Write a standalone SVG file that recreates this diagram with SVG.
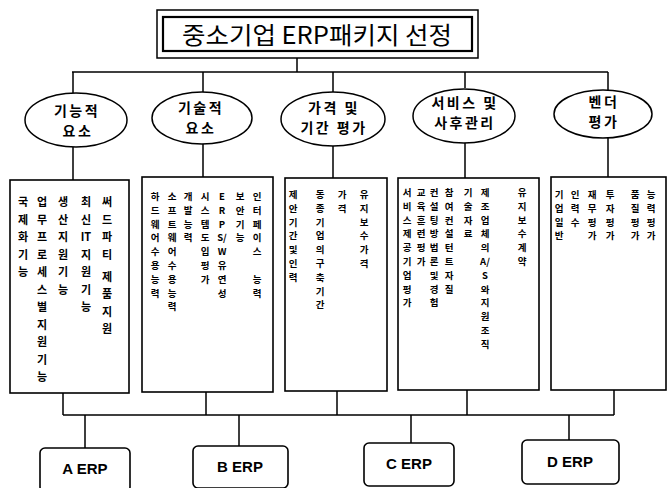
<svg xmlns="http://www.w3.org/2000/svg" width="669" height="488" viewBox="0 0 669 488">
<style>
.ln{stroke:#000;stroke-width:1.5;fill:none}
.bx{stroke:#000;stroke-width:1.6;fill:#fff}
.el{stroke:#000;stroke-width:1.5;fill:#fff}
.t{font-family:"Noto Sans CJK KR","Noto Sans",sans-serif;fill:#000}
.title{font-size:24px;font-weight:400}
.et{font-size:14px;font-weight:700;letter-spacing:2.5px;text-anchor:middle}
.v text{font-family:"Noto Sans CJK KR","Noto Sans",sans-serif;font-size:9.5px;font-weight:700;text-anchor:middle;fill:#000}
#box1 text{font-size:11px}
.erp{font-family:"Liberation Sans",Arial,sans-serif;font-size:15px;font-weight:700;text-anchor:middle;fill:#000}
</style>
<rect width="669" height="488" fill="#fff"/>
<g id="connectors">
<path class="ln" d="M297 57V72M72 72H608M73 72V93M203 72V92M333 72V92M465 72V88M608 72V90"/>
<path class="ln" d="M73 147V180M203 143V177M333 145V178M465 143V178M608 137V177"/>
<path class="ln" d="M63 393V415M206 392V415M337 391V415M467 390V415M614 390V415M63 415H614"/>
<path class="ln" d="M85 415V448M239 415V446M411 415V443M569 415V440"/>
</g>
<g id="title">
<rect x="157" y="10" width="321" height="48" fill="#fff" stroke="#000" stroke-width="1.5"/>
<rect x="163" y="17" width="309" height="34" fill="none" stroke="#000" stroke-width="2.2"/>
<text class="t title" x="182" y="44" textLength="270" lengthAdjust="spacingAndGlyphs">중소기업  ERP패키지 선정</text>
</g>
<g id="e1"><ellipse class="el" cx="76" cy="120" rx="51" ry="27"/><text class="t et" x="77" y="116">기능적</text><text class="t et" x="78" y="136">요소</text></g>
<g id="e2"><ellipse class="el" cx="202" cy="118" rx="50" ry="26"/><text class="t et" x="201" y="113">기술적</text><text class="t et" x="201" y="133">요소</text></g>
<g id="e3"><ellipse class="el" cx="333" cy="119" rx="52" ry="27"/><text class="t et" x="334" y="113">가격 및</text><text class="t et" x="334" y="133">기간 평가</text></g>
<g id="e4"><ellipse class="el" cx="464" cy="116" rx="51" ry="27"/><text class="t et" x="465" y="108">서비스 및</text><text class="t et" x="465" y="128">사후관리</text></g>
<g id="e5"><ellipse class="el" cx="603" cy="114" rx="49" ry="24"/><text class="t et" x="604" y="107">벤더</text><text class="t et" x="604" y="127">평가</text></g>

<g id="box1" class="v"><rect class="bx" x="10" y="180" width="119" height="213"/>
<text x="23" y="206">국</text><text x="23" y="223.5">제</text><text x="23" y="241">화</text><text x="23" y="258.5">기</text><text x="23" y="276">능</text>
<text x="42" y="206">업</text><text x="42" y="223.5">무</text><text x="42" y="241">프</text><text x="42" y="258.5">로</text><text x="42" y="276">세</text><text x="42" y="293.5">스</text><text x="42" y="311">별</text><text x="42" y="328.5">지</text><text x="42" y="346">원</text><text x="42" y="363.5">기</text><text x="42" y="381">능</text>
<text x="63" y="206">생</text><text x="63" y="223.5">산</text><text x="63" y="241">지</text><text x="63" y="258.5">원</text><text x="63" y="276">기</text><text x="63" y="293.5">능</text>
<text x="86" y="206">최</text><text x="86" y="223.5">신</text><text x="86" y="241">IT</text><text x="86" y="258.5">지</text><text x="86" y="276">원</text><text x="86" y="293.5">기</text><text x="86" y="311">능</text>
<text x="107" y="206">써</text><text x="107" y="223.5">드</text><text x="107" y="241">파</text><text x="107" y="258.5">티</text><text x="107" y="280.5">제</text><text x="107" y="298">품</text><text x="107" y="315.5">지</text><text x="107" y="333">원</text>
</g>

<g id="box2" class="v"><rect class="bx" x="142" y="177" width="131" height="215"/>
<text x="155" y="200">하</text><text x="155" y="213.8">드</text><text x="155" y="227.6">웨</text><text x="155" y="241.4">어</text><text x="155" y="255.2">수</text><text x="155" y="269">용</text><text x="155" y="282.8">능</text><text x="155" y="296.6">력</text>
<text x="172" y="200">소</text><text x="172" y="213.8">프</text><text x="172" y="227.6">트</text><text x="172" y="241.4">웨</text><text x="172" y="255.2">어</text><text x="172" y="269">수</text><text x="172" y="282.8">용</text><text x="172" y="296.6">능</text><text x="172" y="310.4">력</text>
<text x="188" y="200">개</text><text x="188" y="213.8">발</text><text x="188" y="227.6">능</text><text x="188" y="241.4">력</text>
<text x="205" y="200">시</text><text x="205" y="213.8">스</text><text x="205" y="227.6">템</text><text x="205" y="241.4">도</text><text x="205" y="255.2">입</text><text x="205" y="269">평</text><text x="205" y="282.8">가</text>
<text x="222" y="200">E</text><text x="222" y="213.8">R</text><text x="222" y="227.6">P</text><text x="222" y="241.4">S/</text><text x="222" y="255.2">W</text><text x="222" y="269">유</text><text x="222" y="282.8">연</text><text x="222" y="296.6">성</text>
<text x="240" y="200">보</text><text x="240" y="213.8">안</text><text x="240" y="227.6">기</text><text x="240" y="241.4">능</text>
<text x="257" y="200">인</text><text x="257" y="213.8">터</text><text x="257" y="227.6">페</text><text x="257" y="241.4">이</text><text x="257" y="255.2">스</text><text x="257" y="282.8">능</text><text x="257" y="296.6">력</text>
</g>

<g id="box3" class="v"><rect class="bx" x="285" y="178" width="102" height="213"/>
<text x="293" y="198">제</text><text x="293" y="211.8">안</text><text x="293" y="225.6">기</text><text x="293" y="239.4">간</text><text x="293" y="253.2">및</text><text x="293" y="267">인</text><text x="293" y="280.8">력</text>
<text x="320" y="198">동</text><text x="320" y="211.8">종</text><text x="320" y="225.6">기</text><text x="320" y="239.4">업</text><text x="320" y="253.2">의</text><text x="320" y="267">구</text><text x="320" y="280.8">축</text><text x="320" y="294.6">기</text><text x="320" y="308.4">간</text>
<text x="342" y="198">가</text><text x="342" y="211.8">격</text>
<text x="364" y="198">유</text><text x="364" y="211.8">지</text><text x="364" y="225.6">보</text><text x="364" y="239.4">수</text><text x="364" y="253.2">가</text><text x="364" y="267">격</text>
</g>

<g id="box4" class="v"><rect class="bx" x="398" y="178" width="141" height="212"/>
<text x="407" y="196">서</text><text x="407" y="209.8">비</text><text x="407" y="223.6">스</text><text x="407" y="237.4">제</text><text x="407" y="251.2">공</text><text x="407" y="265">기</text><text x="407" y="278.8">업</text><text x="407" y="292.6">평</text><text x="407" y="306.4">가</text>
<text x="421" y="196">교</text><text x="421" y="209.8">육</text><text x="421" y="223.6">훈</text><text x="421" y="237.4">련</text><text x="421" y="251.2">평</text><text x="421" y="265">가</text>
<text x="434" y="196">컨</text><text x="434" y="209.8">설</text><text x="434" y="223.6">팅</text><text x="434" y="237.4">방</text><text x="434" y="251.2">법</text><text x="434" y="265">론</text><text x="434" y="278.8">및</text><text x="434" y="292.6">경</text><text x="434" y="306.4">험</text>
<text x="449" y="196">참</text><text x="449" y="209.8">여</text><text x="449" y="223.6">컨</text><text x="449" y="237.4">설</text><text x="449" y="251.2">턴</text><text x="449" y="265">트</text><text x="449" y="278.8">자</text><text x="449" y="292.6">질</text>
<text x="468" y="196">기</text><text x="468" y="209.8">술</text><text x="468" y="223.6">자</text><text x="468" y="237.4">료</text>
<text x="485" y="196">제</text><text x="485" y="209.8">조</text><text x="485" y="223.6">업</text><text x="485" y="237.4">체</text><text x="485" y="251.2">의</text><text x="485" y="265">A/</text><text x="485" y="278.8">S</text><text x="485" y="292.6">와</text><text x="485" y="306.4">지</text><text x="485" y="320.2">원</text><text x="485" y="334">조</text><text x="485" y="347.8">직</text>
<text x="522" y="196">유</text><text x="522" y="209.8">지</text><text x="522" y="223.6">보</text><text x="522" y="237.4">수</text><text x="522" y="251.2">계</text><text x="522" y="265">약</text>
</g>

<g id="box5" class="v"><rect class="bx" x="551" y="177" width="115" height="213"/>
<text x="559" y="198">기</text><text x="559" y="211.8">업</text><text x="559" y="225.6">일</text><text x="559" y="239.4">반</text>
<text x="575" y="198">인</text><text x="575" y="211.8">력</text><text x="575" y="225.6">수</text>
<text x="592" y="198">재</text><text x="592" y="211.8">무</text><text x="592" y="225.6">평</text><text x="592" y="239.4">가</text>
<text x="610" y="198">투</text><text x="610" y="211.8">자</text><text x="610" y="225.6">평</text><text x="610" y="239.4">가</text>
<text x="635" y="198">품</text><text x="635" y="211.8">질</text><text x="635" y="225.6">평</text><text x="635" y="239.4">가</text>
<text x="651" y="198">능</text><text x="651" y="211.8">력</text><text x="651" y="225.6">평</text><text x="651" y="239.4">가</text>
</g>

<g id="erpA"><rect class="bx" x="40" y="448" width="90" height="44" rx="5"/><text class="erp" x="85" y="474">A ERP</text></g>
<g id="erpB"><rect class="bx" x="193" y="446" width="95" height="42" rx="5"/><text class="erp" x="240" y="472">B ERP</text></g>
<g id="erpC"><rect class="bx" x="364" y="443" width="90" height="43" rx="5"/><text class="erp" x="409" y="469">C ERP</text></g>
<g id="erpD"><rect class="bx" x="522" y="440" width="97" height="44" rx="5"/><text class="erp" x="570" y="467">D ERP</text></g>
</svg>
